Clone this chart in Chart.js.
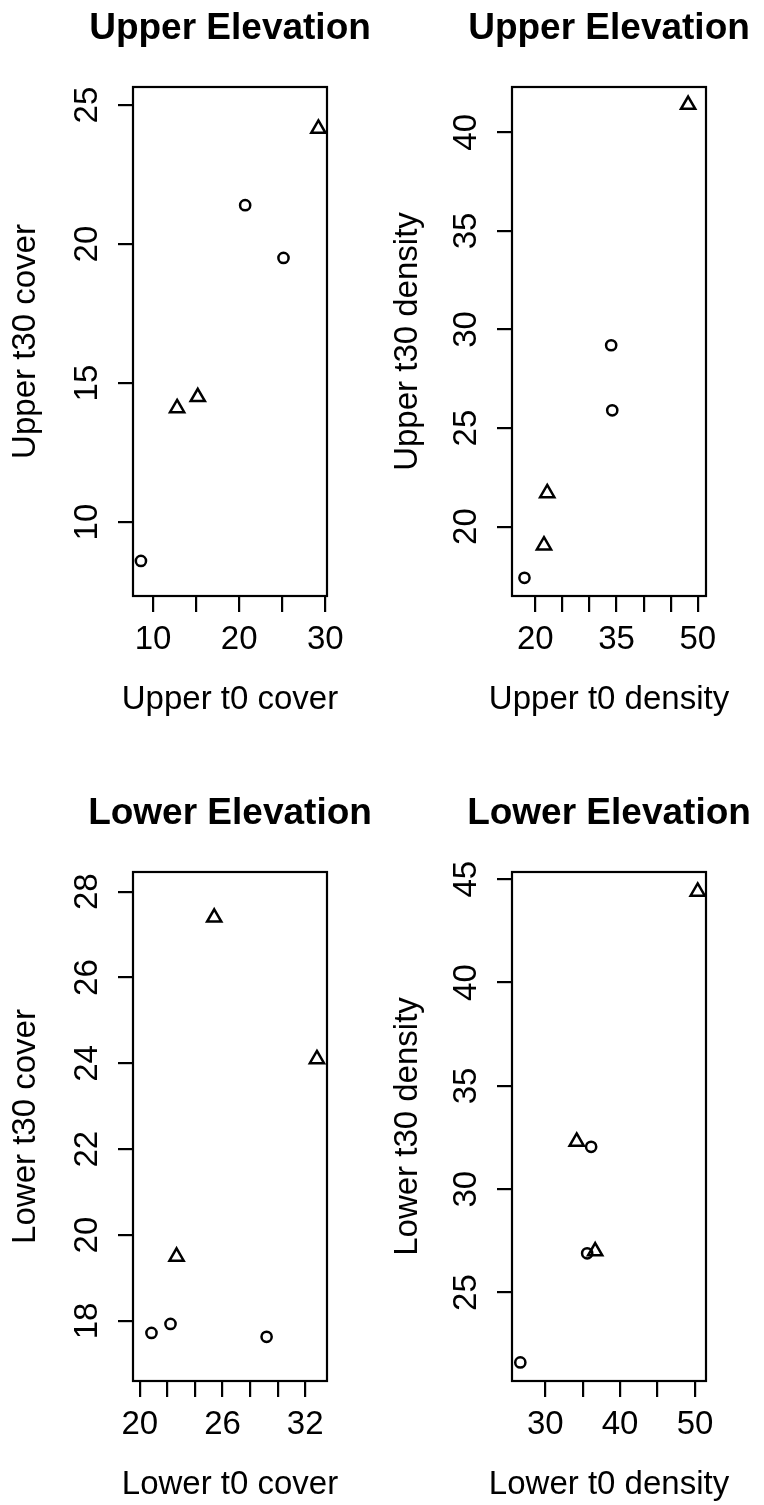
<!DOCTYPE html>
<html lang="en">
<head>
<meta charset="UTF-8">
<title>Upper and Lower Elevation</title>
<script src="https://cdn.jsdelivr.net/npm/chart.js"></script>
<style>
  body { margin: 0; background: #fff; }
  #wrap { position: relative; width: 764px; height: 1505px; background: #fff; }
  canvas { position: absolute; }
</style>
</head>
<body>
<div id="wrap">
  <canvas id="c1" width="382" height="752" style="left:0;top:0"></canvas>
  <canvas id="c2" width="382" height="752" style="left:382px;top:0"></canvas>
  <canvas id="c3" width="382" height="753" style="left:0;top:752px"></canvas>
  <canvas id="c4" width="382" height="753" style="left:382px;top:752px"></canvas>
</div>

<script>
  // ---- data: circles = group A, triangles = group B ----
  // upper elevation, cover
  const upperCoverAT0  = [8.6, 20.7, 25.15];
  const upperCoverAT30 = [8.6, 21.4, 19.5];
  const upperCoverBT0  = [12.8, 15.2, 29.2];
  const upperCoverBT30 = [14.1, 14.5, 24.15];

  // upper elevation, density
  const upperDensityAT0  = [18.0, 34.0, 34.2];
  const upperDensityAT30 = [17.4, 29.2, 25.9];
  const upperDensityBT0  = [21.6, 22.2, 48.2];
  const upperDensityBT30 = [19.05, 21.7, 41.4];

  // lower elevation, cover
  const lowerCoverAT0  = [20.85, 22.23, 29.2];
  const lowerCoverAT30 = [17.72, 17.93, 17.63];
  const lowerCoverBT0  = [22.67, 25.4, 32.85];
  const lowerCoverBT30 = [19.5, 27.4, 24.1];

  // lower elevation, density
  const lowerDensityAT0  = [26.67, 36.13, 35.6];
  const lowerDensityAT30 = [21.62, 32.05, 26.9];
  const lowerDensityBT0  = [34.2, 36.67, 50.36];
  const lowerDensityBT30 = [32.3, 27.0, 44.4];

  // ---- tick marks and which of them carry a label ----
  const upperCoverXTicks = [10, 15, 20, 25, 30];
  const upperCoverXLabels = [10, 20, 30];
  const upperCoverYTicks = [10, 15, 20, 25];

  const upperDensityXTicks = [20, 25, 30, 35, 40, 45, 50];
  const upperDensityXLabels = [20, 35, 50];
  const upperDensityYTicks = [20, 25, 30, 35, 40];

  const lowerCoverXTicks = [20, 22, 24, 26, 28, 30, 32];
  const lowerCoverXLabels = [20, 26, 32];
  const lowerCoverYTicks = [18, 20, 22, 24, 26, 28];

  const lowerDensityXTicks = [30, 35, 40, 45, 50];
  const lowerDensityXLabels = [30, 40, 50];
  const lowerDensityYTicks = [25, 30, 35, 40, 45];

  const FAMILY = '"Liberation Sans", Arial, Helvetica, sans-serif';
  const font = { family: FAMILY, size: 33, lineHeight: 1.2 };
  const X_AXIS_H = 124;

  Chart.defaults.color = '#000';

  // box round the plot area, bold panel title and x axis title
  // (x title drawn here so it is not squeezed to the plot width)
  const framePlugin = {
    id: 'frame',
    beforeDatasetsDraw(chart) {
      const { ctx, chartArea: a } = chart;
      ctx.save();
      ctx.strokeStyle = '#000';
      ctx.lineWidth = 2.2;
      ctx.strokeRect(a.left, a.top, a.right - a.left, a.bottom - a.top);
      ctx.restore();
    },
    afterDraw(chart, args, opts) {
      const { ctx, chartArea: a } = chart;
      const cx = (a.left + a.right) / 2;
      ctx.save();
      ctx.fillStyle = '#000';
      ctx.textAlign = 'center';
      ctx.font = 'bold 37px ' + FAMILY;
      ctx.textBaseline = 'alphabetic';
      ctx.fillText(opts.text, cx, a.top - 48);
      ctx.font = '33px ' + FAMILY;
      ctx.textBaseline = 'middle';
      ctx.fillText(opts.xTitle, cx, a.bottom + 103.5);
      ctx.restore();
    }
  };

  function pts(xs, ys) {
    return xs.map((x, i) => ({ x: x, y: ys[i] }));
  }

  function makeChart(p) {
    const cv = document.getElementById(p.id);
    const W = cv.width, H = cv.height;
    return new Chart(cv, {
      type: 'scatter',
      data: {
        datasets: [
          {
            data: pts(p.aX, p.aY),
            pointStyle: 'circle',
            pointRadius: 5.1,
            pointBorderWidth: 2.5,
            pointBorderColor: '#000',
            pointBackgroundColor: 'rgba(0,0,0,0)'
          },
          {
            data: pts(p.bX, p.bY),
            pointStyle: 'triangle',
            pointRadius: 8.2,
            pointBorderWidth: 2.5,
            pointBorderColor: '#000',
            pointBackgroundColor: 'rgba(0,0,0,0)'
          }
        ]
      },
      options: {
        responsive: false,
        animation: false,
        clip: false,
        events: [],
        layout: {
          padding: {
            left: 0,
            top: p.box.top - p.top,
            right: p.left + W - p.box.right,
            bottom: Math.max(0, p.top + H - p.box.bottom - X_AXIS_H)
          }
        },
        plugins: {
          legend: { display: false },
          tooltip: { enabled: false },
          frame: { text: p.title, xTitle: p.xTitle }
        },
        scales: {
          x: {
            type: 'linear',
            bounds: 'data',
            min: p.xMin,
            max: p.xMax,
            afterFit: s => { s.height = X_AXIS_H; },
            afterBuildTicks: s => { s.ticks = p.xTicks.map(v => ({ value: v })); },
            ticks: {
              autoSkip: false,
              maxRotation: 0,
              padding: 8,
              font: font,
              color: '#000',
              callback: v => p.xLabels.includes(v) ? String(v) : ''
            },
            grid: { drawOnChartArea: false, tickLength: 16, lineWidth: 2.2, tickWidth: 2.2, tickColor: '#000' },
            border: { display: false }
          },
          y: {
            type: 'linear',
            bounds: 'data',
            min: p.yMin,
            max: p.yMax,
            afterFit: s => { s.width = p.box.left - p.left; },
            afterBuildTicks: s => { s.ticks = p.yTicks.map(v => ({ value: v })); },
            ticks: {
              autoSkip: false,
              minRotation: 90,
              maxRotation: 90,
              crossAlign: 'center',
              padding: 12,
              font: font,
              color: '#000',
              callback: v => String(v)
            },
            grid: { drawOnChartArea: false, tickLength: 15, lineWidth: 2.2, tickWidth: 2.2, tickColor: '#000' },
            border: { display: false },
            title: { display: true, text: p.yTitle, font: font, color: '#000', padding: { top: 6, bottom: 0 } }
          }
        }
      },
      plugins: [framePlugin]
    });
  }

  makeChart({
    id: 'c1', left: 0, top: 0,
    box: { left: 133, right: 327, top: 87, bottom: 596 },
    title: 'Upper Elevation', xTitle: 'Upper t0 cover', yTitle: 'Upper t30 cover',
    xMin: 7.68, xMax: 30.2, yMin: 7.34, yMax: 25.65,
    xTicks: upperCoverXTicks, xLabels: upperCoverXLabels, yTicks: upperCoverYTicks,
    aX: upperCoverAT0, aY: upperCoverAT30, bX: upperCoverBT0, bY: upperCoverBT30
  });

  makeChart({
    id: 'c2', left: 382, top: 0,
    box: { left: 512, right: 706, top: 87, bottom: 596 },
    title: 'Upper Elevation', xTitle: 'Upper t0 density', yTitle: 'Upper t30 density',
    xMin: 15.7, xMax: 51.5, yMin: 16.48, yMax: 42.3,
    xTicks: upperDensityXTicks, xLabels: upperDensityXLabels, yTicks: upperDensityYTicks,
    aX: upperDensityAT0, aY: upperDensityAT30, bX: upperDensityBT0, bY: upperDensityBT30
  });

  makeChart({
    id: 'c3', left: 0, top: 752,
    box: { left: 133, right: 327, top: 872, bottom: 1381 },
    title: 'Lower Elevation', xTitle: 'Lower t0 cover', yTitle: 'Lower t30 cover',
    xMin: 19.51, xMax: 33.58, yMin: 16.6, yMax: 28.46,
    xTicks: lowerCoverXTicks, xLabels: lowerCoverXLabels, yTicks: lowerCoverYTicks,
    aX: lowerCoverAT0, aY: lowerCoverAT30, bX: lowerCoverBT0, bY: lowerCoverBT30
  });

  makeChart({
    id: 'c4', left: 382, top: 752,
    box: { left: 512, right: 706, top: 872, bottom: 1381 },
    title: 'Lower Elevation', xTitle: 'Lower t0 density', yTitle: 'Lower t30 density',
    xMin: 25.56, xMax: 51.47, yMin: 20.72, yMax: 45.35,
    xTicks: lowerDensityXTicks, xLabels: lowerDensityXLabels, yTicks: lowerDensityYTicks,
    aX: lowerDensityAT0, aY: lowerDensityAT30, bX: lowerDensityBT0, bY: lowerDensityBT30
  });
</script>
</body>
</html>
